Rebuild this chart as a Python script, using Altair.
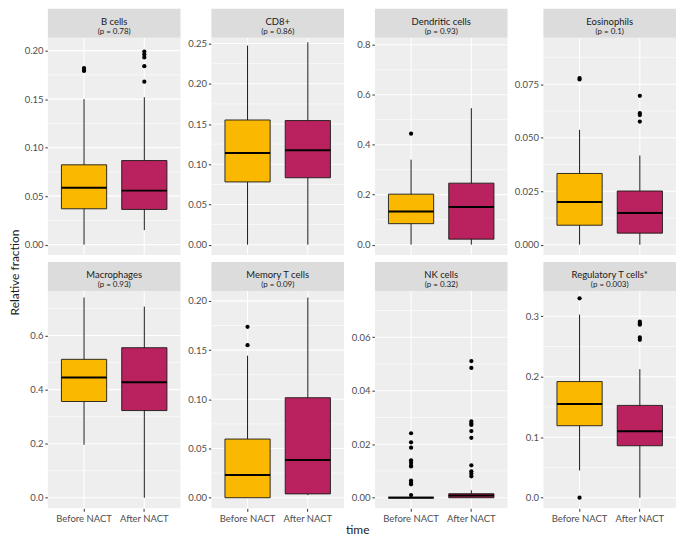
import altair as alt
import pandas as pd

# ---------------- data ----------------
cell_types = ["B cells", "CD8+", "Dendritic cells", "Eosinophils",
              "Macrophages", "Memory T cells", "NK cells", "Regulatory T cells*"]
p_labels = ["(p = 0.78)", "(p = 0.86)", "(p = 0.93)", "(p = 0.1)",
            "(p = 0.93)", "(p = 0.09)", "(p = 0.32)", "(p = 0.003)"]
groups = ["Before NACT", "After NACT"]

before_lower  = [0.000, 0.000, 0.000, 0.000, 0.196, 0.000, 0.0000, 0.045]
before_q1     = [0.037, 0.078, 0.084, 0.0091, 0.356, 0.000, 0.0000, 0.119]
before_median = [0.0587, 0.114, 0.133, 0.020, 0.445, 0.0231, 0.0000, 0.155]
before_q3     = [0.0823, 0.155, 0.202, 0.0333, 0.512, 0.0596, 0.0002, 0.192]
before_upper  = [0.150, 0.2476, 0.340, 0.0537, 0.741, 0.1443, 0.0004, 0.3026]

after_lower  = [0.015, 0.000, 0.000, 0.000, 0.000, 0.0026, 0.0000, 0.000]
after_q1     = [0.0363, 0.0832, 0.022, 0.0054, 0.3225, 0.0039, 0.0000, 0.0859]
after_median = [0.0557, 0.1174, 0.151, 0.0148, 0.427, 0.0384, 0.0008, 0.1097]
after_q3     = [0.0867, 0.1543, 0.246, 0.0251, 0.555, 0.1016, 0.0015, 0.1526]
after_upper  = [0.152, 0.2516, 0.546, 0.0417, 0.707, 0.2033, 0.0028, 0.2125]

before_outliers = [
    [0.182, 0.180, 0.179],
    [],
    [0.444],
    [0.0779, 0.0773],
    [],
    [0.1736, 0.155],
    [0.0241, 0.0207, 0.0187, 0.0140, 0.0131, 0.0120, 0.0117, 0.0064, 0.0056, 0.0050, 0.0010],
    [0.3296, 0.0],
]
after_outliers = [
    [0.199, 0.196, 0.193, 0.184, 0.168],
    [],
    [],
    [0.0696, 0.0615, 0.0606, 0.0576],
    [],
    [],
    [0.0511, 0.0485, 0.0285, 0.0277, 0.0272, 0.0249, 0.0224, 0.0121, 0.0099, 0.0090, 0.0080],
    [0.291, 0.288, 0.286, 0.265, 0.261],
]

y_ticks = [
    [0, 0.05, 0.10, 0.15, 0.20],
    [0, 0.05, 0.10, 0.15, 0.20, 0.25],
    [0, 0.2, 0.4, 0.6, 0.8],
    [0, 0.025, 0.050, 0.075],
    [0, 0.2, 0.4, 0.6],
    [0, 0.05, 0.10, 0.15, 0.20],
    [0, 0.02, 0.04, 0.06],
    [0, 0.1, 0.2, 0.3],
]
y_formats = [".2f", ".2f", ".1f", ".3f", ".1f", ".2f", ".2f", ".1f"]
y_domains = [
    [-0.0107, 0.2133],
    [-0.0129, 0.2573],
    [-0.0416, 0.828],
    [-0.00485, 0.0968],
    [-0.039, 0.765],
    [-0.01075, 0.2101],
    [-0.00395, 0.0773],
    [-0.0175, 0.3418],
]

# ---------------- style ----------------
FONT = "Lato"
W = 133
H = 218
SH = 29
PANEL_BG = "#EEEEEE"
STRIP_BG = "#DCDCDC"
COLORS = ["#FBB800", "#B9225E"]
BOX_PX = 0.75 * W / 2.2
col_extent = [25, 25, 25, 30]


def panel(i):
    row = i // 4
    col = i % 4
    stats = pd.DataFrame({
        "time": groups,
        "lower": [before_lower[i], after_lower[i]],
        "q1": [before_q1[i], after_q1[i]],
        "median": [before_median[i], after_median[i]],
        "q3": [before_q3[i], after_q3[i]],
        "upper": [before_upper[i], after_upper[i]],
    })
    outl = pd.DataFrame({
        "time": [groups[0]] * len(before_outliers[i]) + [groups[1]] * len(after_outliers[i]),
        "value": before_outliers[i] + after_outliers[i],
    })
    ticks = y_ticks[i]
    lo, hi = y_domains[i]
    step = ticks[1] - ticks[0]
    minor = [t + step / 2 for t in ticks] + [ticks[0] - step / 2]
    minor = [m for m in minor if lo < m < hi]
    major_df = pd.DataFrame({"v": ticks})
    minor_df = pd.DataFrame({"v": minor})
    grp_df = pd.DataFrame({"time": groups})
    one = pd.DataFrame({"a": [0]})

    yscale = alt.Scale(domain=[lo, hi], nice=False, zero=False)
    yax = alt.Axis(values=ticks, format=y_formats[i], title=None, grid=False,
                   domain=False, tickColor="#333333", tickSize=3, tickWidth=1,
                   labelFont=FONT, labelFontSize=9.5, labelColor="#4D4D4D",
                   labelPadding=2, minExtent=col_extent[col], maxExtent=col_extent[col])
    xscale = alt.Scale(domain=groups, paddingInner=0, paddingOuter=0.1)
    if row == 1:
        xax = alt.Axis(title=None, grid=False, domain=False, labelAngle=0,
                       tickColor="#333333", tickSize=3, tickWidth=1,
                       labelFont=FONT, labelFontSize=9.5, labelColor="#4D4D4D",
                       labelPadding=2)
    else:
        xax = None

    X = alt.X("time:N", scale=xscale, axis=xax, sort=groups)

    bg = alt.Chart(one).mark_rect(color=PANEL_BG).encode(
        x=alt.value(0), x2=alt.value(W), y=alt.value(0), y2=alt.value(H))
    minor_rules = alt.Chart(minor_df).mark_rule(color="white", strokeWidth=0.6).encode(
        y=alt.Y("v:Q", scale=yscale, axis=yax))
    major_rules = alt.Chart(major_df).mark_rule(color="white", strokeWidth=1.1).encode(
        y=alt.Y("v:Q", scale=yscale, axis=yax))
    vert_rules = alt.Chart(grp_df).mark_rule(color="white", strokeWidth=1.1).encode(x=X)
    whisk = alt.Chart(stats).mark_rule(color="#1A1A1A", strokeWidth=1).encode(
        x=X, y=alt.Y("lower:Q", scale=yscale, axis=yax), y2="upper:Q")
    box = alt.Chart(stats).mark_bar(width=alt.RelativeBandSize(0.75), stroke="#1A1A1A",
                                    strokeWidth=0.9).encode(
        x=X, y=alt.Y("q1:Q", scale=yscale, axis=yax), y2="q3:Q",
        color=alt.Color("time:N", scale=alt.Scale(domain=groups, range=COLORS), legend=None))
    med = alt.Chart(stats).mark_tick(size=BOX_PX, thickness=2, color="#000000", opacity=1).encode(
        x=X, y=alt.Y("median:Q", scale=yscale, axis=yax))
    layers = [bg, minor_rules, major_rules, vert_rules, whisk, box, med]
    if len(outl):
        pts = alt.Chart(outl).mark_circle(size=18, color="#000000", opacity=1).encode(
            x=X, y=alt.Y("value:Q", scale=yscale, axis=yax))
        layers.append(pts)
    strip = alt.Chart(one).mark_rect(color=STRIP_BG).encode(
        x=alt.value(0), x2=alt.value(W), y=alt.value(-SH), y2=alt.value(0))
    name = alt.Chart(one).mark_text(font=FONT, fontSize=9.5, color="#1A1A1A",
                                    baseline="middle").encode(
        x=alt.value(W / 2), y=alt.value(-16), text=alt.value(cell_types[i]))
    pval = alt.Chart(one).mark_text(font=FONT, fontSize=8, color="#1A1A1A",
                                    baseline="middle").encode(
        x=alt.value(W / 2), y=alt.value(-6), text=alt.value(p_labels[i]))
    layers += [strip, name, pval]
    return alt.layer(*layers).properties(width=W, height=H)


panels = [panel(i) for i in range(8)]
grid = alt.concat(*panels, columns=4, spacing={"row": 6, "column": 5}, align="each").properties(
    title=alt.TitleParams("time", orient="bottom", anchor="middle", font=FONT, fontSize=12,
                          fontWeight="normal", color="#1A1A1A", offset=2, dx=8))

plot_span = 2 * H + SH + 6
ylab = alt.Chart(pd.DataFrame({"a": [0]})).mark_text(
    angle=270, font=FONT, fontSize=12, color="#1A1A1A", baseline="middle").encode(
    x=alt.value(7), y=alt.value(plot_span / 2), text=alt.value("Relative fraction")
).properties(width=12, height=plot_span)

chart = alt.hconcat(ylab, grid, spacing=2).properties(
    padding=0, background="white"
).configure_view(stroke=None)

chart.save("out.html", embed_options={"renderer": "svg", "actions": False})
